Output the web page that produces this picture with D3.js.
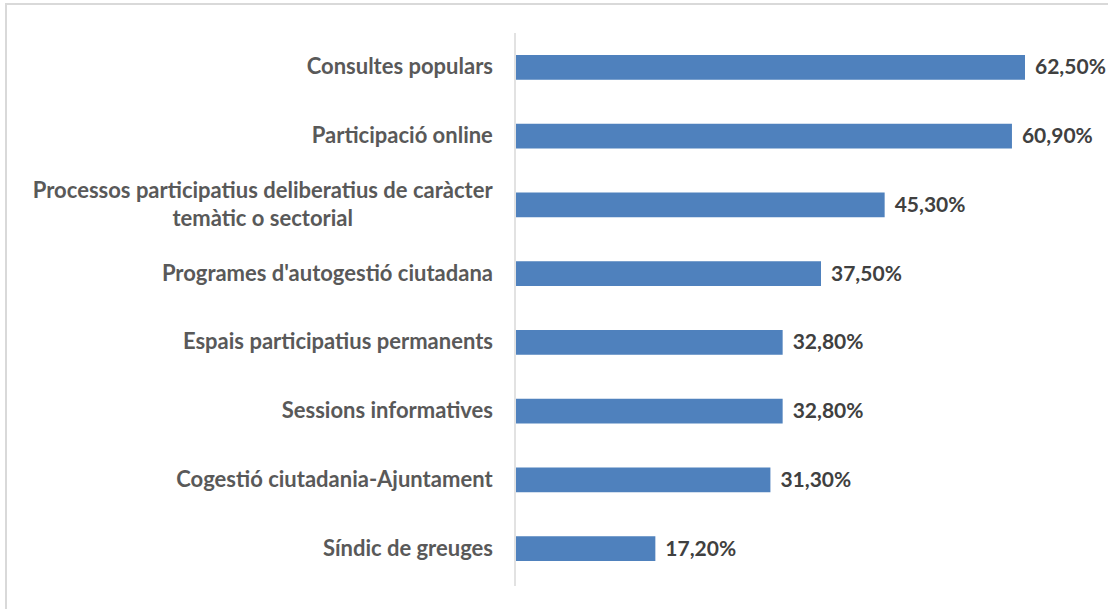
<!DOCTYPE html>
<html lang="ca">
<head>
	<meta charset="utf-8">
	<title>Instruments de participació</title>
	<script src="https://cdn.jsdelivr.net/npm/d3@7"></script>
	<style>
		body { margin: 0; background: #fff; }
		svg { display: block; }
	</style>
</head>
<body>
<script>
	// data
	var categories = [
		"Consultes populars",
		"Participació online",
		"Processos participatius deliberatius de caràcter|temàtic o sectorial",
		"Programes d'autogestió ciutadana",
		"Espais participatius permanents",
		"Sessions informatives",
		"Cogestió ciutadania-Ajuntament",
		"Síndic de greuges"
	];
	var values = [62.5, 60.9, 45.3, 37.5, 32.8, 32.8, 31.3, 17.2];
	var valueLabels = ["62,50%", "60,90%", "45,30%", "37,50%", "32,80%", "32,80%", "31,30%", "17,20%"];

	var w = 1108, h = 609;
	var svg = d3.select("body").append("svg")
		.attr("width", w)
		.attr("height", h);

	// chart frame (top and left edges visible)
	svg.append("rect")
		.attr("x", 6).attr("y", 4)
		.attr("width", w + 20).attr("height", h + 20)
		.attr("fill", "none")
		.attr("stroke", "#d9d9d9")
		.attr("stroke-width", 2);

	var x0 = 515;
	var x = d3.scaleLinear().domain([0, 62.5]).range([x0, 1025]);
	var y = d3.scaleBand().domain(d3.range(categories.length))
		.range([33, 583]).paddingInner(0.64).paddingOuter(0.32);

	// category axis line
	svg.append("line")
		.attr("x1", x0).attr("x2", x0)
		.attr("y1", 33).attr("y2", 586)
		.attr("stroke", "#d9d9d9")
		.attr("stroke-width", 1.5);

	svg.selectAll("rect.bar")
		.data(values)
		.enter()
		.append("rect")
		.attr("class", "bar")
		.attr("x", x(0) + 1)
		.attr("y", function(d, i) { return y(i); })
		.attr("width", function(d) { return x(d) - x(0) - 1; })
		.attr("height", y.bandwidth())
		.attr("fill", "#4f81bd");

	// category labels
	var lab = svg.selectAll("text.cat")
		.data(categories)
		.enter()
		.append("text")
		.attr("class", "cat")
		.attr("text-anchor", "middle")
		.attr("font-family", "Lato, sans-serif")
		.attr("font-weight", "bold")
		.attr("font-size", "22px")
		.attr("fill", "#595959");

	lab.each(function(d, i) {
		var lines = d.split("|");
		var t = d3.select(this);
		var cy = y(i) + y.bandwidth() / 2;
		var lh = 28;
		lines.forEach(function(s, k) {
			t.append("tspan")
				.attr("x", 0)
				.attr("y", cy + 7 + (k - (lines.length - 1) / 2) * lh)
				.text(s);
		});
	});

	// right-align the block, lines centered within it
	lab.each(function() {
		var bb = this.getBBox();
		d3.select(this).selectAll("tspan").attr("x", 493 - bb.width / 2);
	});

	// value labels
	svg.selectAll("text.val")
		.data(values)
		.enter()
		.append("text")
		.attr("class", "val")
		.attr("x", function(d) { return x(d) + 10; })
		.attr("y", function(d, i) { return y(i) + y.bandwidth() / 2 + 7; })
		.attr("font-family", "Lato, sans-serif")
		.attr("font-weight", "bold")
		.attr("font-size", "21px")
		.attr("fill", "#404040")
		.text(function(d, i) { return valueLabels[i]; });
</script>
</body>
</html>
